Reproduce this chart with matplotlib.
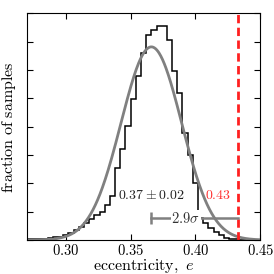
import numpy as np
import matplotlib
matplotlib.use("Agg")
import matplotlib.pyplot as plt
from matplotlib.ticker import FuncFormatter

plt.rcParams['mathtext.fontset'] = 'cm'
plt.rcParams['font.family'] = 'serif'
plt.rcParams['font.serif'] = ['DejaVu Serif']

# histogram of posterior samples, fraction per bin (bin width 0.004)
bin_start = 0.270
bin_width = 0.004
frac = [0.0002, 0.0002, 0.0002, 0.0004, 0.0007, 0.0009, 0.0012, 0.0018,
        0.0026, 0.0035, 0.0045, 0.0061, 0.0075, 0.0090, 0.0100,
        0.0124, 0.0155, 0.0255, 0.0320, 0.0404, 0.0497, 0.0579, 0.0659,
        0.0724, 0.0741, 0.0755, 0.0757, 0.0706, 0.0598, 0.0518, 0.0379,
        0.0300, 0.0200, 0.0077, 0.0061, 0.0044, 0.0029, 0.0018, 0.0008,
        0.0003, 0.0002, 0.0001, 0.0, 0.0, 0.0]

# gaussian fit and the observed value
fit_mean = 0.366
fit_sigma = 0.0234
e_obs = 0.433
n_sigma = 2.9

xticks = [0.30, 0.35, 0.40, 0.45]
yticks = [0.01 * k for k in range(9)]

edges = np.round(bin_start + bin_width * np.arange(len(frac) + 1), 3)

fig = plt.figure(figsize=(2.74, 2.74), dpi=100)
ax = fig.add_axes([0.0985, 0.124, 0.851, 0.827])

ax.stairs(frac, edges, color='black', linewidth=1.1)

xx = np.linspace(0.27, 0.45, 400)
amp = bin_width / (fit_sigma * np.sqrt(2 * np.pi))
ax.plot(xx, amp * np.exp(-0.5 * ((xx - fit_mean) / fit_sigma) ** 2),
        color='#808080', linewidth=2)

ax.axvline(e_obs, color='#ff2020', linestyle='--', linewidth=2, dashes=(3, 1.6))

# sigma bar
y_bar = 0.00765
ax.plot([fit_mean, e_obs], [y_bar, y_bar], color='#808080', linewidth=1.8)
ax.plot([fit_mean], [y_bar], marker='|', markersize=9, mew=1.8, color='#808080')
ax.text(0.3925, y_bar, r'$%.1f\sigma$' % n_sigma, ha='center', va='center',
        fontsize=10.5, color='#333333',
        bbox=dict(facecolor='white', edgecolor='none', pad=0.5))

ax.text(0.366, 0.0159, r'$%.2f \pm %.2f$' % (0.37, 0.02), ha='center', va='center',
        fontsize=10, color='#222222')
ax.text(0.4277, 0.0159, r'$%.2f$' % e_obs, ha='right', va='center',
        fontsize=10, color='#ff3030')

ax.set_xlim(0.27, 0.45)
ax.set_ylim(0, 0.08)
ax.set_xticks(xticks)
ax.xaxis.set_major_formatter(FuncFormatter(lambda v, p: r'$%.2f$' % v))
ax.set_yticks(yticks)
ax.set_yticklabels([])
ax.tick_params(direction='in', top=True, right=True, length=4, width=0.8,
               labelsize=10.5, pad=2)
ax.set_xlabel(r'$\mathrm{eccentricity,}\ e$', fontsize=11.5)
ax.set_ylabel(r'$\mathrm{fraction\ of\ samples}$', fontsize=11.5)
ax.xaxis.set_label_coords(0.5, -0.08)
ax.yaxis.set_label_coords(-0.04, 0.5)

fig.savefig('out.png', dpi=100)
